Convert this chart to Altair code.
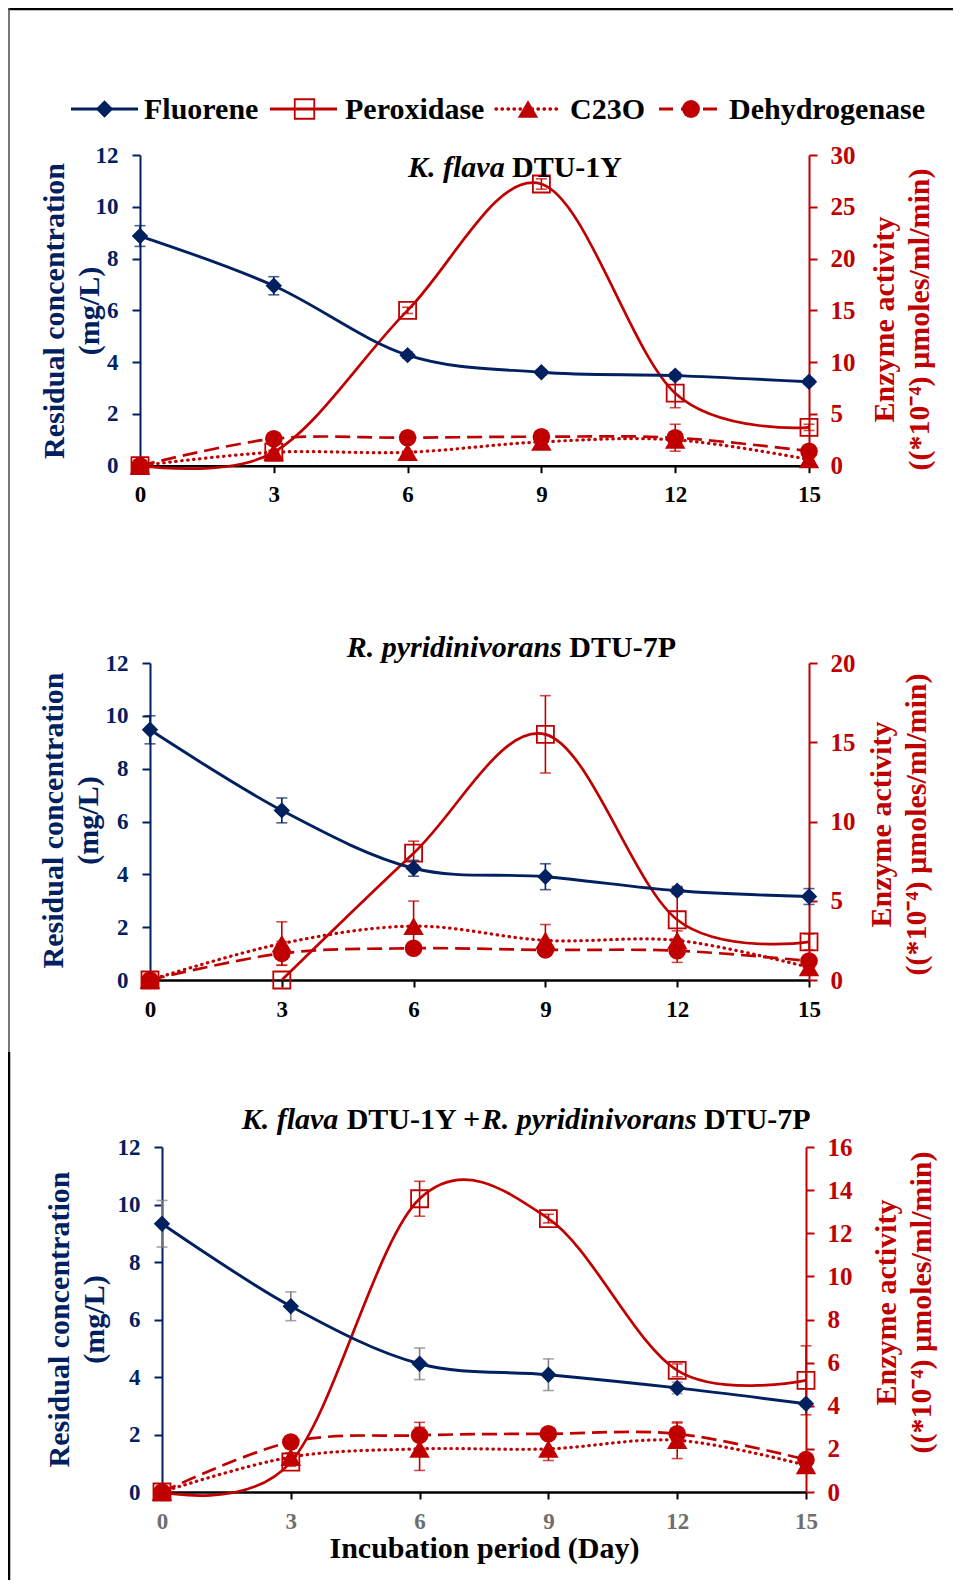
import altair as alt
import pandas as pd

FONT = "Liberation Serif"
NAVY = "#002060"
RED = "#C00000"
ERR_GRAY = "#7F7F7F"
TICK_GRAY = "#6E6E6E"

W, H = 945, 1572

days = [0, 3, 6, 9, 12, 15]

# ---- Panel 1: K. flava DTU-1Y ----
p1_fluorene = [8.87, 6.95, 4.27, 3.61, 3.48, 3.24]
p1_fluorene_err = [0.40, 0.35, 0.12, 0.10, 0.12, 0.10]
p1_peroxidase = [0.0, 1.3, 15.0, 27.2, 7.0, 3.7]
p1_peroxidase_err = [0.0, 0.2, 0.3, 0.5, 1.4, 0.3]
p1_c23o = [0.0, 1.3, 1.3, 2.3, 2.5, 0.6]
p1_c23o_err = [0.0, 0.1, 0.1, 0.2, 0.3, 0.1]
p1_dehydrogenase = [0.0, 2.6, 2.7, 2.8, 2.7, 1.4]
p1_dehydrogenase_err = [0.0, 0.2, 0.2, 0.2, 1.3, 0.2]

# ---- Panel 2: R. pyridinivorans DTU-7P ----
p2_fluorene = [9.47, 6.42, 4.23, 3.91, 3.38, 3.16]
p2_fluorene_err = [0.53, 0.47, 0.30, 0.49, 0.12, 0.30]
p2_peroxidase = [0.0, 0.0, 8.0, 15.5, 3.8, 2.4]
p2_peroxidase_err = [0.0, 0.0, 0.76, 2.44, 2.1, 0.5]
p2_c23o = [0.0, 2.3, 3.4, 2.5, 2.5, 0.8]
p2_c23o_err = [0.0, 1.37, 1.58, 1.0, 0.6, 0.2]
p2_dehydrogenase = [0.0, 1.68, 2.0, 1.9, 1.85, 1.2]
p2_dehydrogenase_err = [0.0, 0.75, 0.1, 0.1, 0.74, 0.2]

# ---- Panel 3: consortium ----
p3_fluorene = [9.33, 6.46, 4.46, 4.08, 3.62, 3.07]
p3_fluorene_err = [0.81, 0.50, 0.55, 0.55, 0.20, 0.10]
p3_peroxidase = [0.0, 1.39, 13.6, 12.68, 5.64, 5.18]
p3_peroxidase_err = [0.0, 0.2, 0.81, 0.2, 0.3, 1.6]
p3_c23o = [0.0, 1.62, 2.0, 2.0, 2.4, 1.24]
p3_c23o_err = [0.0, 0.2, 1.0, 0.54, 0.85, 0.2]
p3_dehydrogenase = [0.0, 2.32, 2.63, 2.7, 2.7, 1.5]
p3_dehydrogenase_err = [0.0, 0.1, 0.6, 0.2, 0.5, 0.2]

# first day from which the smoothed peroxidase curve is drawn in each panel
peroxidase_curve_start = [0, 3, 0]

left_ticks = [0, 2, 4, 6, 8, 10, 12]
right_ticks = [[0, 5, 10, 15, 20, 25, 30], [0, 5, 10, 15, 20], [0, 2, 4, 6, 8, 10, 12, 14, 16]]

# panel geometry (chart pixel coordinates)
GEOM = [
    dict(xl=132, xr=801, yt=147, yb=457.7, ltx=-77, lty=155.5, rtx=84, rty=164, xlab="black", ferr=NAVY),
    dict(xl=142, xr=801, yt=655, yb=972, ltx=-88, lty=157, rtx=81, rty=161, xlab="black", ferr=NAVY),
    dict(xl=154, xr=798, yt=1139, yb=1484, ltx=-94, lty=172, rtx=89, rty=155, xlab=TICK_GRAY, ferr=ERR_GRAY),
]


def series_layers(vals, errs, xenc, ys, yaxis, color, shape, filled, size, err_color,
                  dash=None, cap=None, start=0, width=2.7):
    df = pd.DataFrame({"day": days, "value": vals, "err": errs})
    base = alt.Chart(df)
    line_kw = dict(interpolate="cardinal", color=color, strokeWidth=width)
    if dash is not None:
        line_kw["strokeDash"] = dash
    if cap is not None:
        line_kw["strokeCap"] = cap
    line = base.transform_filter(f"datum.day >= {start}").mark_line(**line_kw).encode(
        x=xenc, y=alt.Y("value:Q", scale=ys, axis=yaxis))
    eb = base.transform_filter("datum.err > 0").transform_calculate(
        lo="datum.value - datum.err", hi="datum.value + datum.err")
    rule = eb.mark_rule(color=err_color, strokeWidth=1.6).encode(
        x=xenc, y=alt.Y("lo:Q", scale=ys, axis=yaxis), y2="hi:Q")
    cap_lo = eb.mark_tick(orient="horizontal", size=11, thickness=1.6, color=err_color).encode(
        x=xenc, y=alt.Y("lo:Q", scale=ys, axis=yaxis))
    cap_hi = eb.mark_tick(orient="horizontal", size=11, thickness=1.6, color=err_color).encode(
        x=xenc, y=alt.Y("hi:Q", scale=ys, axis=yaxis))
    pts = base.mark_point(shape=shape, filled=filled, size=size, color=color, opacity=1,
                          strokeWidth=1.8).encode(x=xenc, y=alt.Y("value:Q", scale=ys, axis=yaxis))
    return [line, rule, cap_lo, cap_hi], [pts]


def panel(g, rticks, pstart, fl, fl_e, per, per_e, c23, c23_e, deh, deh_e):
    xs = alt.Scale(domain=[0, 15], range=[g["xl"], g["xr"]], nice=False, zero=False)
    yl = alt.Scale(domain=[0, 12], range=[g["yb"], g["yt"]], nice=False, zero=False)
    yr = alt.Scale(domain=[0, rticks[-1]], range=[g["yb"], g["yt"]], nice=False, zero=False)
    x_axis = alt.Axis(orient="bottom", offset=g["yb"] - H, values=days, title="", grid=False,
                      domainColor="black", domainWidth=2.5, tickColor="black", tickWidth=2, tickSize=7,
                      labelFont=FONT, labelFontSize=23, labelFontWeight="bold", labelColor=g["xlab"],
                      labelPadding=11, labelFlush=False, labelOverlap=False)
    yl_axis = alt.Axis(orient="left", offset=-g["xl"], values=left_ticks, grid=False,
                       domainColor=NAVY, domainWidth=2, tickColor=NAVY, tickWidth=2, tickSize=8,
                       labelFont=FONT, labelFontSize=23, labelFontWeight="bold", labelColor=NAVY,
                       labelPadding=14, labelFlush=False, labelOverlap=False,
                       title=["Residual concentration", "(mg/L)"], titleFont=FONT, titleFontSize=30,
                       titleFontWeight="bold", titleColor=NAVY, titleAngle=270, titleAlign="center",
                       titleBaseline="alphabetic", titleLineHeight=35, titleX=g["ltx"],
                       titleY=g["yt"] + g["lty"])
    yr_axis = alt.Axis(orient="right", offset=g["xr"] - W, values=rticks, grid=False,
                       domainColor=RED, domainWidth=2, tickColor=RED, tickWidth=2, tickSize=8,
                       labelFont=FONT, labelFontSize=25, labelFontWeight="bold", labelColor=RED,
                       labelPadding=13, labelFlush=False, labelOverlap=False,
                       title=["Enzyme activity", "((*10⁻⁴) µmoles/ml/min)"], titleFont=FONT, titleFontSize=30,
                       titleFontWeight="bold", titleColor=RED, titleAngle=270, titleAlign="center",
                       titleBaseline="alphabetic", titleLineHeight=35, titleX=g["rtx"],
                       titleY=g["yt"] + g["rty"])
    x_left = alt.X("day:Q", scale=xs, axis=x_axis)
    x_right = alt.X("day:Q", scale=xs, axis=None)

    per_l, per_p = series_layers(per, per_e, x_right, yr, yr_axis, RED, "square", False, 290, RED,
                                 start=pstart)
    c23_l, c23_p = series_layers(c23, c23_e, x_right, yr, yr_axis, RED, "triangle-up", True, 420, RED,
                                 dash=[0.5, 5.5], cap="round", width=3.2)
    deh_l, deh_p = series_layers(deh, deh_e, x_right, yr, yr_axis, RED, "circle", True, 310, RED,
                                 dash=[15, 7])
    right = alt.layer(*(per_l + c23_l + deh_l + per_p + c23_p + deh_p))

    fl_l, fl_p = series_layers(fl, fl_e, x_left, yl, yl_axis, NAVY, "diamond", True, 270, g["ferr"],
                               width=2.9)
    left = alt.layer(*(fl_l + fl_p))
    return [right, left]


ANNOT = alt.Data(values=[{"a": 1}])


def txt(s, x, y, size=30, color="black", italic=False, align="left"):
    return alt.Chart(ANNOT).mark_text(
        text=s, font=FONT, fontSize=size, fontWeight="bold",
        fontStyle="italic" if italic else "normal", align=align, baseline="alphabetic", color=color
    ).encode(x=alt.value(x), y=alt.value(y))


def hline(x1, x2, y, color, width, dash=None, cap=None):
    kw = dict(color=color, strokeWidth=width)
    if dash is not None:
        kw["strokeDash"] = dash
    if cap is not None:
        kw["strokeCap"] = cap
    return alt.Chart(ANNOT).mark_rule(**kw).encode(x=alt.value(x1), x2=alt.value(x2), y=alt.value(y))


def vline(x, y1, y2, color, width):
    return alt.Chart(ANNOT).mark_rule(color=color, strokeWidth=width).encode(
        x=alt.value(x), y=alt.value(y1), y2=alt.value(y2))


def sym(shape, x, y, color, filled, size):
    return alt.Chart(ANNOT).mark_point(shape=shape, filled=filled, size=size, color=color, opacity=1,
                                       strokeWidth=1.8).encode(x=alt.value(x), y=alt.value(y))


layers = []
layers += panel(GEOM[0], right_ticks[0], peroxidase_curve_start[0], p1_fluorene, p1_fluorene_err,
                p1_peroxidase, p1_peroxidase_err, p1_c23o, p1_c23o_err, p1_dehydrogenase, p1_dehydrogenase_err)
layers += panel(GEOM[1], right_ticks[1], peroxidase_curve_start[1], p2_fluorene, p2_fluorene_err,
                p2_peroxidase, p2_peroxidase_err, p2_c23o, p2_c23o_err, p2_dehydrogenase, p2_dehydrogenase_err)
layers += panel(GEOM[2], right_ticks[2], peroxidase_curve_start[2], p3_fluorene, p3_fluorene_err,
                p3_peroxidase, p3_peroxidase_err, p3_c23o, p3_c23o_err, p3_dehydrogenase, p3_dehydrogenase_err)

# frame
layers += [
    hline(0, W, 1, "black", 2.5),
    vline(1, 0, 1044, "#555555", 1.6),
    vline(1, 1044, H, "black", 2.5),
]

# legend
LY = 101
TY = 110.5
layers += [
    hline(63, 130, LY, NAVY, 3.2), sym("diamond", 96.5, LY, NAVY, True, 300), txt("Fluorene", 136, TY),
    hline(262, 329, LY, RED, 3.2), sym("square", 296.5, LY, RED, False, 380), txt("Peroxidase", 337, TY),
    hline(488, 551, LY, RED, 3.4, dash=[0.5, 5.5], cap="round"), sym("triangle-up", 520, LY, RED, True, 420),
    txt("C23O", 562, TY),
    hline(651, 715, LY, RED, 3.2, dash=[14, 8]), sym("circle", 683, LY, RED, True, 320),
    txt("Dehydrogenase", 721, TY),
]

# panel titles
layers += [
    txt("K. flava", 400, 168.5, italic=True), txt("DTU-1Y", 504, 168.5),
    txt("R. pyridinivorans", 338.7, 649, italic=True), txt("DTU-7P", 561.3, 649),
    txt("K. flava", 233.7, 1121.3, italic=True), txt("DTU-1Y +", 338.7, 1121.3),
    txt("R. pyridinivorans", 473.7, 1121.3, italic=True), txt("DTU-7P", 696, 1121.3),
    txt("Incubation period (Day)", 476.5, 1550, align="center"),
]

chart = alt.layer(*layers).resolve_scale(x="independent", y="independent").properties(
    width=W, height=H, autosize=alt.AutoSizeParams(type="none"), padding=0, background="white"
).configure_view(strokeWidth=0)

chart.save("out.html", embed_options={"renderer": "svg", "actions": False})
